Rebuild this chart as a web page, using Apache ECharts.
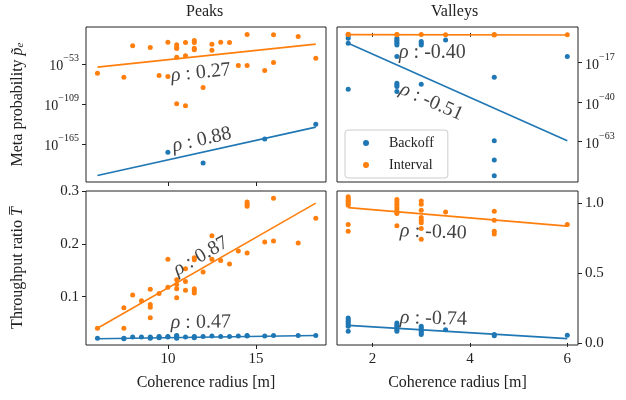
<!DOCTYPE html>
<html><head><meta charset="utf-8">
<script src="https://cdn.jsdelivr.net/npm/echarts@6/dist/echarts.min.js"></script>
<style>html,body{margin:0;padding:0;background:#fff}#c{width:626px;height:400px}</style>
</head><body><div id="c"></div>
<script>
// ---- data (meta probability stored as log10 exponent) ----
const peaksBackoffMetaLog = [[10,-176.7],[12,-192],[15.5,-158.2],[18.4,-137.6]];
const peaksIntervalMetaLog = [[6,-66.1],[7.5,-71.7],[8,-27.8],[9,-30.1],[9.5,-69.3],[10,-22.7],[10,-70.7],[10.5,-26.4],[10.5,-29.7],[10.5,-31.5],[10.5,-43.7],[10.5,-109],[11,-23.1],[11,-41.8],[11,-111.8],[11.5,-20.3],[11.5,-23.1],[11.5,-31.1],[11.5,-33.4],[12,-86.1],[12.5,-25.5],[12.5,-33.9],[13,-22.7],[13.5,-23.1],[14,-55.3],[14.5,-11.9],[14.5,-55.3],[15.5,-62.3],[16,-12.4],[16,-51.1],[17.4,-14.7],[18.4,-45.1]];
const peaksBackoffMetaFit = [[6,-209.3],[18.4,-141.7]];
const peaksIntervalMetaFit = [[6,-57.7],[18.4,-25.5]];

const valleysBackoffMetaLog = [[1.5,-1.6],[1.5,-3.1],[1.5,-6.0],[1.5,-32.6],[2.5,-3.1],[2.5,-4.1],[2.5,-5.0],[2.5,-6.0],[2.5,-7.0],[2.5,-13.7],[2.5,-29.1],[2.5,-30.1],[2.5,-31.0],[2.5,-33.9],[3,-5],[3,-6],[3,-7],[3,-29.7],[3.5,-4.1],[4.5,-25.7],[4.5,-62.4],[4.5,-73.6],[4.5,-82.7],[6,-13.7]];
const valleysIntervalMetaLog = [[1.5,-0.8],[1.5,-1.0],[2.5,-0.9],[2.5,-1.1],[3,-1.0],[3.5,-1.1],[4.5,-1.2],[4.5,-1.0],[6,-1.1]];
const valleysBackoffMetaFit = [[1.5,-6.0],[6,-62.4]];
const valleysIntervalMetaFit = [[1.5,-1.0],[6,-1.2]];

const peaksBackoffThr = [[6,0.021],[7.5,0.021],[7.5,0.020],[8,0.023],[8.5,0.023],[9,0.022],[9,0.023],[9,0.021],[9.5,0.022],[9.5,0.023],[9.5,0.024],[10,0.023],[10,0.024],[10.5,0.022],[10.5,0.025],[10.5,0.026],[10.5,0.021],[11,0.023],[11.5,0.022],[11.5,0.023],[11.5,0.024],[12,0.024],[12.5,0.025],[13,0.024],[13.5,0.024],[14,0.025],[14.5,0.025],[14.5,0.026],[15.5,0.025],[16,0.026],[17.4,0.026],[18.4,0.026]];
const peaksIntervalThr = [[6,0.040],[7.5,0.079],[7.5,0.040],[8,0.103],[8.5,0.092],[9,0.114],[9,0.085],[9,0.080],[9,0.060],[9.5,0.106],[10,0.171],[10,0.118],[10.5,0.132],[10.5,0.123],[10.5,0.115],[10.5,0.098],[11,0.153],[11,0.129],[11,0.112],[11.5,0.174],[11.5,0.170],[11.5,0.115],[11.5,0.111],[11.5,0.107],[12,0.147],[12.5,0.216],[12.5,0.171],[13,0.169],[13.5,0.162],[14,0.187],[14.5,0.280],[14.5,0.276],[14.5,0.272],[14.5,0.183],[15.5,0.204],[16,0.206],[16,0.287],[17.4,0.202],[18.4,0.249]];
const peaksBackoffThrFit = [[6,0.020],[18.4,0.026]];
const peaksIntervalThrFit = [[6,0.040],[18.4,0.278]];

const valleysBackoffThr = [[1.5,0.179],[1.5,0.167],[1.5,0.155],[1.5,0.143],[1.5,0.131],[1.5,0.119],[1.5,0.083],[2.5,0.143],[2.5,0.131],[2.5,0.119],[2.5,0.107],[2.5,0.095],[2.5,0.083],[3,0.119],[3,0.107],[3,0.095],[3,0.083],[3,0.071],[3,0.060],[3.5,0.095],[4.5,0.060],[4.5,0.052],[6,0.055]];
const valleysIntervalThr = [[1.5,1.048],[1.5,1.036],[1.5,1.024],[1.5,1.012],[1.5,1.0],[1.5,0.988],[1.5,0.85],[1.5,0.802],[2.5,1.029],[2.5,1.012],[2.5,0.995],[2.5,0.976],[2.5,0.957],[2.5,0.94],[2.5,0.929],[2.5,0.84],[3,1.019],[3,0.995],[3,0.952],[3,0.9],[3,0.881],[3,0.862],[3,0.821],[3,0.743],[3.5,0.94],[4.5,0.945],[4.5,0.881],[4.5,0.802],[4.5,0.781],[6,0.85]];
const valleysBackoffThrFit = [[1.5,0.126],[6,0.031]];
const valleysIntervalThrFit = [[1.5,0.971],[6,0.838]];

const panelTitles = ['Peaks','Valleys'];
const xLabel = 'Coherence radius [m]';
const peaksMetaTicks = [-165,-109,-53];
const valleysMetaTicks = [-63,-40,-17];
const peaksThrTicks = [0.1,0.2,0.3];
const valleysThrTicks = [0.0,0.5,1.0];
const peaksXTicks = [10,15];
const valleysXTicks = [2,4,6];
// correlation annotations: [text, x, y, rotation]
const rhoPeaksMeta = [['0.27',11.87,-65.6,6],['0.88',11.93,-159.4,12.5]];
const rhoValleysMeta = [['-0.40',3.23,-11.6,0],['-0.51',3.21,-40.0,-24]];
const rhoPeaksThr = [['0.87',11.87,0.177,30],['0.47',11.87,0.051,0.5]];
const rhoValleysThr = [['-0.40',3.25,0.795,-2],['-0.74',3.25,0.174,-1.5]];

// ---- chart ----
const F = '"Liberation Serif", "DejaVu Serif", serif';
const BLUE = '#1f77b4', ORANGE = '#ff7f0e';
const grids = [
  {left:86, top:27, width:240, height:155},
  {left:337, top:27, width:241, height:155},
  {left:86, top:191, width:240, height:154},
  {left:337, top:191, width:241, height:154}
].map(g => Object.assign(g, {show:true, borderColor:'#222', borderWidth:1, backgroundColor:'#fff'}));

const supRich = {
  b:{fontFamily:F, fontSize:14, color:'#222', lineHeight:20, verticalAlign:'bottom'},
  s:{fontFamily:F, fontSize:10, color:'#222', lineHeight:10, verticalAlign:'top'}
};
const expFmt = v => '{b|10}{s|\u2212' + Math.abs(Math.round(v)) + '}';

function xAxis(gi, min, max, ticks, showLabels) {
  return {type:'value', gridIndex:gi, min:min, max:max, splitLine:{show:false},
    axisLine:{show:false}, axisTick:{show:true, customValues:ticks, length:4, inside:false, lineStyle:{color:'#222'}},
    axisLabel:{show:showLabels, customValues:ticks, fontFamily:F, fontSize:15, color:'#222', margin:7},
    name: showLabels ? xLabel : '', nameLocation:'middle', nameGap:30,
    nameTextStyle:{fontFamily:F, fontSize:16, color:'#222'}};
}
function yAxis(gi, min, max, ticks, pos, fmt, rich, name) {
  return {type:'value', gridIndex:gi, min:min, max:max, position:pos, splitLine:{show:false},
    axisLine:{show:false}, axisTick:{show:true, customValues:ticks, length:4, lineStyle:{color:'#222'}},
    axisLabel:{customValues:ticks, formatter:fmt, rich:rich, fontFamily:F, fontSize:15, color:'#222', margin:7},
    name:name||'', nameLocation:'middle', nameGap:60, nameRotate:90,
    nameTextStyle:{fontFamily:F, fontSize:16, color:'#222', rich:{
      n:{fontFamily:F, fontSize:16, color:'#222'},
      i:{fontFamily:F, fontSize:16, fontStyle:'italic', color:'#222'},
      sub:{fontFamily:F, fontSize:11, fontStyle:'italic', color:'#222', verticalAlign:'bottom', padding:[6,0,0,0]}
    }}};
}

function scatter(name, gi, data, color) {
  return {type:'scatter', name:name, xAxisIndex:gi, yAxisIndex:gi, data:data, symbolSize:5,
    itemStyle:{color:color, opacity:1}, z:2, silent:true};
}
function fit(name, gi, data, color) {
  return {type:'line', name:name + ' fit', xAxisIndex:gi, yAxisIndex:gi, data:data, showSymbol:false,
    lineStyle:{color:color, width:1.6}, z:3, silent:true};
}
function rho(gi, arr) {
  return arr.map(r => ({type:'scatter', xAxisIndex:gi, yAxisIndex:gi, data:[[r[1], r[2]]], symbolSize:0, silent:true, z:5,
    label:{show:true, position:'inside', rotate:r[3], formatter:'{i|\u03C1} : ' + r[0],
      fontFamily:F, fontSize:20, color:'#111',
      rich:{i:{fontFamily:F, fontSize:20, fontStyle:'italic', color:'#111'}}}}));
}

const option = {
  animation:false,
  backgroundColor:'#fff',
  grid:grids,
  xAxis:[
    xAxis(0, 5.35, 18.98, peaksXTicks, false),
    xAxis(1, 1.27, 6.22, valleysXTicks, false),
    xAxis(2, 5.35, 18.98, peaksXTicks, true),
    xAxis(3, 1.27, 6.22, valleysXTicks, true)
  ],
  yAxis:[
    yAxis(0, -218.5, -1.5, peaksMetaTicks, 'left', expFmt, supRich, '{n|Meta probability }{i|p\u0303}{sub|e}'),
    yAxis(1, -86.3, 3.4, valleysMetaTicks, 'right', expFmt, supRich),
    yAxis(2, 0.008, 0.301, peaksThrTicks, 'left', v => v.toFixed(1), undefined, '{n|Throughput ratio }{i|T\u0305}'),
    yAxis(3, -0.015, 1.09, valleysThrTicks, 'right', v => v.toFixed(1))
  ],
  legend:{data:['Backoff','Interval'], left:345, top:130, orient:'vertical', icon:'circle',
    itemWidth:36, itemHeight:6, itemGap:8, padding:[6,14,6,18],
    backgroundColor:'rgba(255,255,255,0.85)', borderColor:'#ccc', borderWidth:1, borderRadius:3,
    textStyle:{fontFamily:F, fontSize:14, color:'#222'}},
  graphic:[
    {type:'text', left:206 - 20, top:4, style:{text:panelTitles[0], font:'16px ' + F, fill:'#222'}},
    {type:'text', left:457 - 26, top:4, style:{text:panelTitles[1], font:'16px ' + F, fill:'#222'}}
  ],
  series:[
    scatter('Backoff', 0, peaksBackoffMetaLog, BLUE),
    scatter('Interval', 0, peaksIntervalMetaLog, ORANGE),
    fit('Backoff', 0, peaksBackoffMetaFit, BLUE),
    fit('Interval', 0, peaksIntervalMetaFit, ORANGE),
    scatter('Backoff', 1, valleysBackoffMetaLog, BLUE),
    scatter('Interval', 1, valleysIntervalMetaLog, ORANGE),
    fit('Backoff', 1, valleysBackoffMetaFit, BLUE),
    fit('Interval', 1, valleysIntervalMetaFit, ORANGE),
    scatter('Backoff', 2, peaksBackoffThr, BLUE),
    scatter('Interval', 2, peaksIntervalThr, ORANGE),
    fit('Backoff', 2, peaksBackoffThrFit, BLUE),
    fit('Interval', 2, peaksIntervalThrFit, ORANGE),
    scatter('Backoff', 3, valleysBackoffThr, BLUE),
    scatter('Interval', 3, valleysIntervalThr, ORANGE),
    fit('Backoff', 3, valleysBackoffThrFit, BLUE),
    fit('Interval', 3, valleysIntervalThrFit, ORANGE)
  ].concat(rho(0, rhoPeaksMeta), rho(1, rhoValleysMeta), rho(2, rhoPeaksThr), rho(3, rhoValleysThr))
};
const chart = echarts.init(document.getElementById('c'), null, {renderer:'canvas'});
chart.setOption(option);
</script></body></html>
